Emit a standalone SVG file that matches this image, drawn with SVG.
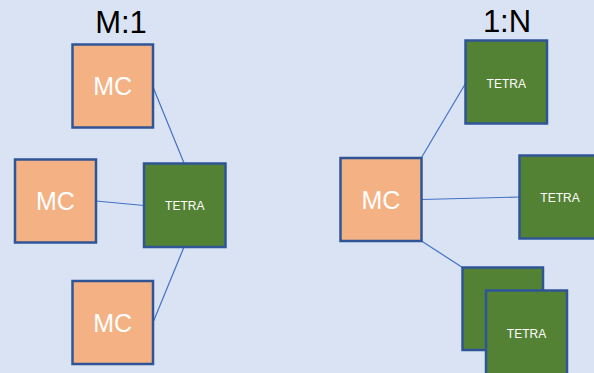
<svg xmlns="http://www.w3.org/2000/svg" width="594" height="373" viewBox="0 0 594 373">
<style>
.mc{fill:#F4B183;stroke:#2F5597;stroke-width:2.5}
.te{fill:#548235;stroke:#2F5597;stroke-width:2.5}
.mct{font-family:"Liberation Sans",Arial,sans-serif;font-size:25px;fill:#fff;text-anchor:middle}
.tet{font-family:"Liberation Sans",Arial,sans-serif;font-size:12px;fill:#fff;text-anchor:middle}
.ttl{font-family:"Liberation Sans",Arial,sans-serif;font-size:31px;fill:#000;text-anchor:middle}
.ln{stroke:#4472C4;stroke-width:1.2;fill:none}
</style>
<rect width="594" height="373" fill="#DAE3F3"/>
<text class="ttl" x="121" y="33">M:1</text>
<text class="ttl" x="507" y="32">1:N</text>
<g id="connectors">
<line class="ln" x1="153" y1="87" x2="184" y2="163"/>
<line class="ln" x1="96" y1="201" x2="144" y2="205.5"/>
<line class="ln" x1="184" y1="247" x2="153" y2="322.5"/>
<line class="ln" x1="421.5" y1="157.5" x2="465.5" y2="83.5"/>
<line class="ln" x1="421.5" y1="199.5" x2="519.5" y2="197"/>
<line class="ln" x1="421.5" y1="241" x2="462.5" y2="267.5"/>
</g>
<g id="mc1"><rect class="mc" x="72.5" y="44.5" width="80.5" height="83"/><text class="mct" x="112.75" y="95">MC</text></g>
<g id="mc2"><rect class="mc" x="15" y="159.5" width="81" height="83"/><text class="mct" x="55.5" y="210">MC</text></g>
<g id="tetra1"><rect class="te" x="144" y="163.5" width="81.5" height="83.5"/><text class="tet" x="184.75" y="210">TETRA</text></g>
<g id="mc3"><rect class="mc" x="72.5" y="281" width="80.5" height="83"/><text class="mct" x="112.75" y="331.5">MC</text></g>
<g id="mc4"><rect class="mc" x="340.5" y="158" width="81" height="83"/><text class="mct" x="381" y="209">MC</text></g>
<g id="tetra2"><rect class="te" x="465.5" y="40.5" width="81.5" height="83"/><text class="tet" x="506.25" y="87.5">TETRA</text></g>
<g id="tetra3"><rect class="te" x="519.5" y="155.5" width="81" height="83"/><text class="tet" x="560" y="202">TETRA</text></g>
<g id="tetra4"><rect class="te" x="462.5" y="267.5" width="80.5" height="82.5"/></g>
<g id="tetra5"><rect class="te" x="486" y="290.5" width="81" height="84"/><text class="tet" x="526.5" y="337.5">TETRA</text></g>
</svg>
